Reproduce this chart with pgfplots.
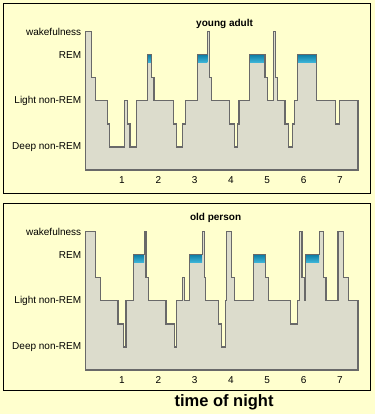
\documentclass[border=0pt]{standalone}
\usepackage{pgfplots}
\usepackage{pgfplotstable}
\pgfplotsset{compat=1.18}
\usepackage{fontspec}
\setmainfont{Liberation Sans}
\definecolor{bgyellow}{RGB}{255,255,206}
\definecolor{fillgray}{RGB}{220,220,204}
\definecolor{linegray}{RGB}{105,105,105}
\definecolor{remdark}{RGB}{15,125,165}
\definecolor{remlight}{RGB}{60,180,215}

\pgfplotstableread{
x y
0 6
0.165 4
0.26 3
0.60 2
0.65 1
1.06 3
1.15 2
1.22 1
1.40 3
1.70 5
1.82 4
1.88 3
2.41 2
2.51 1
2.67 2
2.75 3
3.09 5
3.35 6
3.41 4
3.46 3
3.97 2
4.09 1
4.18 2
4.22 3
4.51 5
4.94 4
5.01 3
5.17 6
5.22 4
5.28 3
5.49 2
5.59 1
5.70 2
5.76 3
5.84 5
6.36 3
6.89 2
7.00 3
7.50 3
}\young

\pgfplotstableread{
x y
0 6
0.28 4
0.41 3
0.89 2
1.04 1
1.11 3
1.31 5
1.61 6
1.66 4
1.73 3
2.21 2
2.44 1
2.50 3
2.67 4
2.73 3
2.86 5
3.21 6
3.27 4
3.31 3
3.65 2
3.75 1
3.84 3
3.88 6
4.02 4
4.10 3
4.62 5
4.96 4
5.04 3
5.65 2
5.83 3
5.89 6
5.96 4
6.02 3
6.06 5
6.43 6
6.55 4
6.62 3
6.95 6
7.10 4
7.23 3
7.50 3
}\old

\pgfplotsset{hypno/.style={
  scale only axis, width=272.3pt, height=149.8pt,
  xmin=0, xmax=7.5, ymin=0, ymax=6.5,
  axis x line=bottom, axis y line=left, axis line style={draw=none},
  xtick={1,...,7}, ytick={1,...,6},
  yticklabels={Deep non-REM,,Light non-REM,,REM,wakefulness},
  tick align=inside, major tick length=4.5pt,
  tick style={draw=linegray, line width=0.7pt},
  tick label style={font=\fontsize{10}{12}\selectfont},
  xticklabel style={yshift=-3pt},
  yticklabel style={xshift=-1pt},
  /pgf/number format/assume math mode=true,
  clip=false,
  every axis title/.style={font=\fontsize{10}{12}\selectfont\bfseries, anchor=center},
}}

\begin{document}
\begin{tikzpicture}[x=1pt,y=1pt]
\useasboundingbox (0,0) rectangle (375,414);
\fill[bgyellow] (0,0) rectangle (375,414);
\draw[black, line width=0.9pt] (3,221) rectangle (370,411);
\draw[black, line width=0.9pt] (3,24) rectangle (370,211);

\begin{axis}[hypno, at={(85.7pt,244pt)}, anchor=origin,
  title={young adult}, title style={at={(axis description cs:0.51,0.973)}}]
\addplot[const plot, fill=fillgray, draw=none] table {\young} \closedcycle;
\addplot[draw=none, top color=remdark, bottom color=remlight] coordinates {(1.70,4.68) (1.70,5) (1.82,5) (1.82,4.68)} -- cycle;
\addplot[draw=none, top color=remdark, bottom color=remlight] coordinates {(3.09,4.68) (3.09,5) (3.35,5) (3.35,4.68)} -- cycle;
\addplot[draw=none, top color=remdark, bottom color=remlight] coordinates {(4.51,4.68) (4.51,5) (4.94,5) (4.94,4.68)} -- cycle;
\addplot[draw=none, top color=remdark, bottom color=remlight] coordinates {(5.84,4.68) (5.84,5) (6.36,5) (6.36,4.68)} -- cycle;
\addplot[const plot, draw=linegray, line width=1.2pt, line join=miter] table {\young} \closedcycle;
\end{axis}

\begin{axis}[hypno, at={(85.7pt,44pt)}, anchor=origin,
  title={old person}, title style={at={(axis description cs:0.477,1.015)}}]
\addplot[const plot, fill=fillgray, draw=none] table {\old} \closedcycle;
\addplot[draw=none, top color=remdark, bottom color=remlight] coordinates {(1.31,4.68) (1.31,5) (1.61,5) (1.61,4.68)} -- cycle;
\addplot[draw=none, top color=remdark, bottom color=remlight] coordinates {(2.86,4.68) (2.86,5) (3.21,5) (3.21,4.68)} -- cycle;
\addplot[draw=none, top color=remdark, bottom color=remlight] coordinates {(4.62,4.68) (4.62,5) (4.96,5) (4.96,4.68)} -- cycle;
\addplot[draw=none, top color=remdark, bottom color=remlight] coordinates {(6.06,4.68) (6.06,5) (6.43,5) (6.43,4.68)} -- cycle;
\addplot[const plot, draw=linegray, line width=1.2pt, line join=miter] table {\old} \closedcycle;
\end{axis}

\node[font=\fontsize{16.5}{18}\selectfont\bfseries] at (224,12) {time of night};
\end{tikzpicture}
\end{document}
